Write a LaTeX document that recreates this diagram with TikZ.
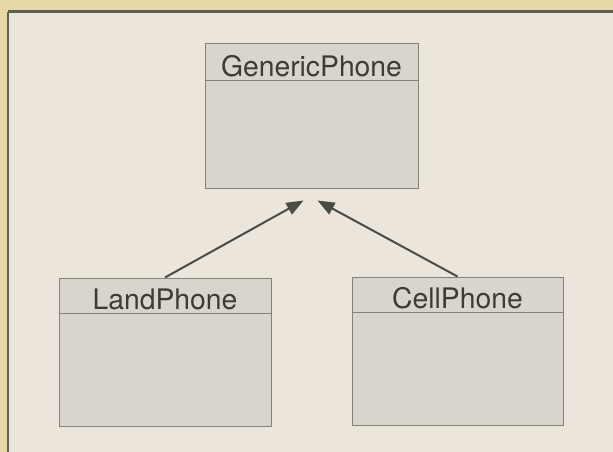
\documentclass[tikz,border=0pt]{standalone}
\usepackage{fontspec}
\setmainfont{TeX Gyre Heros}
\usetikzlibrary{arrows.meta}

\begin{document}
\begin{tikzpicture}[x=1pt,y=-1pt,
  classbox/.style={draw=boxline, fill=boxfill, line width=1pt, inner sep=0pt},
  classname/.style={font=\fontsize{28.3}{30}\selectfont, text=ink, anchor=base, inner sep=0pt},
  inherit/.style={draw=arrowcol, line width=2pt, -{Triangle[length=17pt,width=13pt]}}]
%% Colours
\definecolor{paper}{RGB}{232,216,166}
\definecolor{panel}{RGB}{235,229,220}
\definecolor{frame}{RGB}{92,96,86}
\definecolor{boxfill}{RGB}{218,212,207}
\definecolor{boxline}{RGB}{128,132,120}
\definecolor{ink}{RGB}{58,61,53}
\definecolor{arrowcol}{RGB}{74,77,69}
%% Page and panel
\fill[paper] (0,0) rectangle (613,452);
\useasboundingbox (0,0) rectangle (613,452);
\fill[panel] (8,12) rectangle (613,452);
\draw[frame, line width=1.2pt] (8,452) -- (8,12);
\draw[frame, line width=3pt] (8,12) -- (613,12);
%% Classes
\node[classbox, minimum width=213pt, minimum height=144pt] (generic) at (311.5,116) {};
\node[classbox, minimum width=212pt, minimum height=148pt] (land) at (165,352) {};
\node[classbox, minimum width=211pt, minimum height=148pt] (cell) at (457.5,351) {};
%% Name compartments
\draw[boxline, line width=1pt] ([yshift=-37]generic.north west) -- ([yshift=-37]generic.north east);
\draw[boxline, line width=1pt] ([yshift=-36]land.north west) -- ([yshift=-36]land.north east);
\draw[boxline, line width=1pt] ([yshift=-36]cell.north west) -- ([yshift=-36]cell.north east);
\node[classname] (genericname) at ([yshift=-33]generic.north) {GenericPhone};
\node[classname] (landname) at ([yshift=-32]land.north) {LandPhone};
\node[classname] (cellname) at ([yshift=-32]cell.north) {CellPhone};
%% Generalisation arrows
\coordinate (tipL) at ([xshift=-8,yshift=-12]generic.south);
\coordinate (tipR) at ([xshift=6,yshift=-12]generic.south);
\draw[inherit] (land.north) -- (tipL);
\draw[inherit] (cell.north) -- (tipR);
\end{tikzpicture}
\end{document}
